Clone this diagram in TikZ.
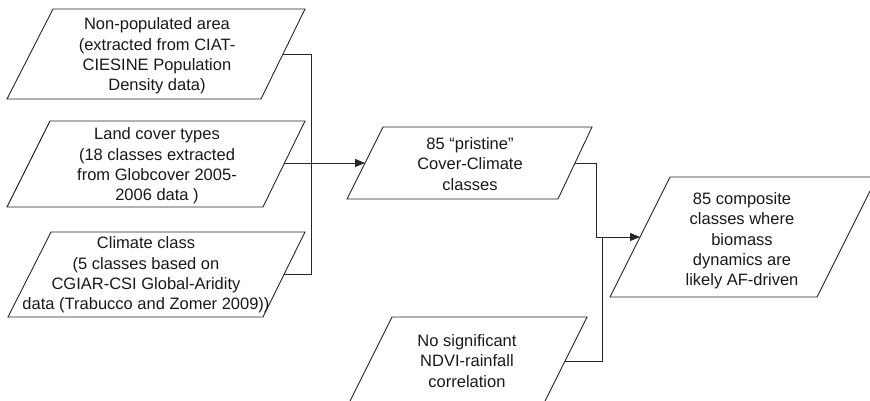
\documentclass[tikz,border=0pt]{standalone}
\usepackage{fontspec}
\setmainfont{Liberation Sans}
\usetikzlibrary{arrows.meta}
\begin{document}
\begin{tikzpicture}[x=1pt,y=-1pt,
  box/.style={draw=black!85, line width=0.9pt},
  txt/.style={align=center, font=\fontsize{16.5}{20.3}\selectfont, inner sep=0pt, text=black!90},
  conn/.style={draw=black!85, line width=0.9pt},
  arr/.style={conn, -{Triangle[length=10pt,width=8pt]}}]
\useasboundingbox (0,0) rectangle (870,401);
\clip (0,0) rectangle (870,401);

% Box 1
\draw[box] (53,9) -- (305,9) -- (261,99) -- (7,99) -- cycle;
\node[txt] (t1) at (157,56) {Non-populated area\\(extracted from CIAT-\\CIESINE Population\\Density data)};
\coordinate (b1r) at (283,54);

% Box 2
\draw[box] (50,121) -- (305,121) -- (263,207) -- (7,207) -- cycle;
\node[txt] (t2) at (157,166) {Land cover types\\(18 classes extracted\\from Globcover 2005-\\2006 data )};
\coordinate (b2r) at (284,163);

% Box 3
\draw[box] (51,232) -- (305,232) -- (263,317) -- (8,317) -- cycle;
\node[txt] (t3) at (146,275) {Climate class\\(5 classes based on\\CGIAR-CSI Global-Aridity\\data (Trabucco and Zomer 2009))};
\coordinate (b3r) at (284,274);

% Middle box
\draw[box] (383,127) -- (592,127) -- (558,199) -- (347,199) -- cycle;
\node[txt] (tm) at (470,164) {85 “pristine”\\Cover-Climate\\classes};
\coordinate (mL) at (365,163);
\coordinate (mR) at (575,163);

% Final box
\draw[box] (670,177) -- (877,177) -- (817,297) -- (610,297) -- cycle;
\node[txt] (tf) at (742,241) {85 composite\\classes where\\biomass\\dynamics are\\likely AF-driven};
\coordinate (fL) at (640,237);

% NDVI box
\draw[box] (392,317) -- (587,317) -- (543,405) -- (348,405) -- cycle;
\node[txt] (tn) at (467,361) {No significant\\NDVI-rainfall\\correlation};
\coordinate (nR) at (565,361);
\coordinate (jn) at (602,237);

% Connectors
\draw[conn] (b1r) -- ++(28,0) |- (b3r);
\draw[arr] (b2r) -- (mL);
\draw[arr] (mR) -- ++(21,0) |- (fL);
\draw[conn] (nR) -| (jn);
\end{tikzpicture}
\end{document}
